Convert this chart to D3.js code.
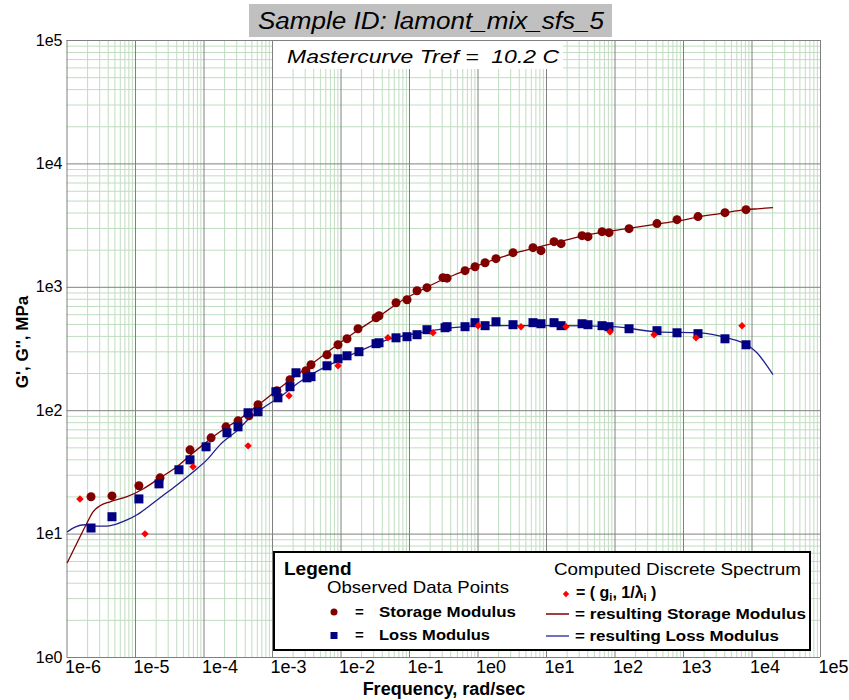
<!DOCTYPE html>
<html>
<head>
<meta charset="utf-8">
<script src="https://cdn.jsdelivr.net/npm/d3@7/dist/d3.min.js"></script>
<style>
  body { margin: 0; background: #fff; }
  text { font-family: "Liberation Sans", Arial, sans-serif; }
</style>
</head>
<body>
<div id="chart"></div>
<script>
// observed data points (frequency in rad/sec, modulus in MPa)
const storageFreq = [2.28e-6, 4.61e-6, 1.14e-5, 2.32e-5, 6.35e-5, 1.29e-4, 2.13e-4, 3.19e-4, 4.61e-4, 6.25e-4,
  1.18e-3, 1.83e-3, 3.13e-3, 3.71e-3, 6.35e-3, 9.2e-3, 1.245e-2, 1.8e-2, 3.3e-2, 3.65e-2,
  6.46e-2, 9.35e-2, 0.131, 0.183, 0.313, 0.359, 0.658, 0.92, 1.29, 1.86,
  3.3, 6.46, 8.45, 13.1, 16.6, 33.6, 41.0, 65.8, 83.2, 163, 417, 817, 1656, 4100, 8318];
const storageG = [19.9, 20.2, 24.4, 28.3, 47.7, 59.7, 73.3, 82.0, 90.1, 110.6,
  143.7, 176.5, 208.8, 233.4, 281.3, 339, 379, 457, 561, 583,
  743, 786, 929, 984, 1186, 1175, 1352, 1455, 1567, 1690,
  1891, 2075, 1963, 2321, 2237, 2596, 2548, 2799, 2747, 2958, 3251, 3500, 3705, 3990, 4220];

const lossFreq = [2.28e-6, 4.61e-6, 1.14e-5, 2.24e-5, 4.38e-5, 6.35e-5, 1.09e-4, 2.2e-4, 3.19e-4, 4.47e-4,
  6.25e-4, 1.14e-3, 1.22e-3, 1.83e-3, 2.24e-3, 3.24e-3, 3.71e-3, 6.35e-3, 9.2e-3, 1.245e-2,
  1.86e-2, 3.3e-2, 3.65e-2, 6.46e-2, 9.35e-2, 0.131, 0.183, 0.336, 0.359, 0.658,
  0.92, 1.29, 1.86, 3.3, 6.46, 8.45, 13.1, 16.6, 33.6, 41.0, 65.8, 83.2, 163, 417, 817, 1656, 4100, 8318];
const lossG = [11.1, 13.7, 19.1, 25.3, 32.9, 39.6, 50.5, 65.6, 73.3, 95.3,
  97.1, 141, 126, 155, 201, 183, 187, 229, 261, 276,
  298, 346, 352, 386, 394, 409, 449, 466, 475, 475,
  512, 484, 521, 493, 512, 502, 512, 484, 502, 493, 484, 475, 457, 441, 424, 417, 379, 339];

// computed discrete spectrum (g_i, 1/lambda_i)
const spectrumFreq = [1.57e-6, 1.40e-5, 7.03e-5, 4.47e-4, 1.77e-3, 9.2e-3, 4.93e-2, 0.224, 1.02, 4.32, 19.6, 85.9, 378, 1549, 7261];
const spectrumG = [19.1, 9.95, 34.8, 51.4, 131, 229, 386, 424, 484, 475, 475, 432, 409, 386, 484];

// resulting moduli from the spectrum
const fitStorageFreq = [1.02e-6, 1.57e-6, 1.99e-6, 2.44e-6, 3.08e-6, 4.32e-6, 7.64e-6, 1.31e-5, 2.32e-5, 4.10e-5,
  7.03e-5, 1.12e-4, 1.74e-4, 3.41e-4, 6.68e-4, 1.31e-3, 2.56e-3, 5.02e-3, 9.84e-3, 1.93e-2,
  3.78e-2, 7.39e-2, 0.145, 0.284, 0.556, 1.09, 2.13, 4.17, 8.17, 16.0,
  31.3, 61.4, 120, 236, 461, 904, 1770, 3467, 8318, 13300, 20600];
const fitStorageG = [5.78, 9.40, 12.2, 15.0, 16.8, 18.1, 19.9, 23.0, 28.3, 34.8,
  45.1, 55.4, 66.8, 85.1, 113, 152, 201, 266, 352, 457,
  583, 757, 929, 1120, 1301, 1511, 1722, 1928, 2115, 2321,
  2548, 2747, 2904, 3070, 3251, 3436, 3705, 3917, 4220, 4300, 4385];
const fitLossFreq = [1.02e-6, 1.33e-6, 1.86e-6, 2.61e-6, 3.90e-6, 5.46e-6, 7.64e-6, 1.07e-5, 1.50e-5, 2.32e-5,
  4.10e-5, 7.03e-5, 1.12e-4, 1.74e-4, 3.19e-4, 4.77e-4, 7.91e-4, 1.31e-3, 2.56e-3, 5.02e-3,
  9.84e-3, 1.93e-2, 4.77e-2, 0.145, 0.439, 1.38, 4.17, 16.0, 95.1, 417,
  1770, 4385, 8590, 12000, 15700, 20600];
const fitLossG = [10.3, 11.3, 11.8, 11.5, 11.5, 12.0, 12.9, 14.2, 16.2, 19.5,
  24.8, 31.6, 39.6, 52.4, 69.3, 86.8, 107, 128, 170, 213,
  256, 303, 372, 424, 466, 484, 484, 484, 475, 432,
  424, 386, 339, 292, 242, 194];

const xTickValues = [1e-6, 1e-5, 1e-4, 1e-3, 1e-2, 1e-1, 1e0, 1e1, 1e2, 1e3, 1e4, 1e5];
const xTickLabels = ["1e-6", "1e-5", "1e-4", "1e-3", "1e-2", "1e-1", "1e0", "1e1", "1e2", "1e3", "1e4", "1e5"];
const yTickValues = [1e0, 1e1, 1e2, 1e3, 1e4, 1e5];
const yTickLabels = ["1e0", "1e1", "1e2", "1e3", "1e4", "1e5"];

const width = 849
const height = 700
const plotLeft = 66.5, plotRight = 820, plotTop = 40, plotBottom = 657

const x = d3.scaleLog().domain([1e-6, 1e5]).range([plotLeft, plotRight]);
const y = d3.scaleLog().domain([1, 1e5]).range([plotBottom, plotTop]);

// minor grid values 2..9 in every decade
const minorOf = (ticks) => ticks.slice(0, -1).flatMap(d => d3.range(2, 10).map(k => k * d));

const svg = d3.select('#chart')
  .append('svg')
  .attr('width', width)
  .attr('height', height);

svg.append('rect').attr('width', width).attr('height', height).attr('fill', '#fff');

// grid
function grid(axis, tr, color) {
  const g = svg.append('g').attr('transform', tr).call(axis);
  g.select('.domain').remove();
  g.selectAll('line').attr('stroke', color).attr('stroke-width', 1);
  return g;
}
grid(d3.axisBottom(x).tickValues(minorOf(xTickValues)).tickSize(-(plotBottom - plotTop)).tickFormat(''),
  `translate(0,${plotBottom})`, '#c0dcc0');
grid(d3.axisLeft(y).tickValues(minorOf(yTickValues)).tickSize(-(plotRight - plotLeft)).tickFormat(''),
  `translate(${plotLeft},0)`, '#c0dcc0');
grid(d3.axisBottom(x).tickValues(xTickValues).tickSize(-(plotBottom - plotTop)).tickFormat(''),
  `translate(0,${plotBottom})`, '#808080');
grid(d3.axisLeft(y).tickValues(yTickValues).tickSize(-(plotRight - plotLeft)).tickFormat(''),
  `translate(${plotLeft},0)`, '#808080');

// tick labels (the x labels sit just right of their grid line, as in the original)
const xAx = svg.append('g')
  .attr('transform', `translate(0,${plotBottom})`)
  .call(d3.axisBottom(x).tickValues(xTickValues).tickSize(0).tickFormat((d, i) => xTickLabels[i]));
xAx.select('.domain').remove();
xAx.selectAll('text')
  .attr('text-anchor', 'start')
  .attr('dx', -2)
  .attr('y', 3)
  .style('font-family', '"Liberation Sans Narrow", "Arial Narrow", sans-serif')
  .style('font-size', '18px')
  .attr('fill', '#000');

const yAx = svg.append('g')
  .attr('transform', `translate(${plotLeft},0)`)
  .call(d3.axisLeft(y).tickValues(yTickValues).tickSize(0).tickPadding(4).tickFormat((d, i) => yTickLabels[i]));
yAx.select('.domain').remove();
yAx.selectAll('text')
  .style('font-family', '"Liberation Sans", Arial, sans-serif')
  .style('font-size', '16px')
  .attr('fill', '#000');

// axis titles
svg.append('text')
  .attr('x', 444)
  .attr('y', 695)
  .attr('text-anchor', 'middle')
  .style('font-family', '"Liberation Sans Narrow", "Arial Narrow", sans-serif')
  .style('font-size', '18px')
  .style('font-weight', 'bold')
  .text('Frequency, rad/sec');

svg.append('text')
  .attr('transform', 'translate(28,342) rotate(-90)')
  .attr('text-anchor', 'middle')
  .style('font-size', '17px')
  .style('font-weight', 'bold')
  .text("G', G'', MPa");

// fitted curves
const line = d3.line().x(d => x(d[0])).y(d => y(d[1])).curve(d3.curveMonotoneX);
svg.append('path')
  .datum(d3.zip(fitStorageFreq, fitStorageG))
  .attr('d', line)
  .attr('fill', 'none')
  .attr('stroke', '#800000')
  .attr('stroke-width', 1.3);
svg.append('path')
  .datum(d3.zip(fitLossFreq, fitLossG))
  .attr('d', line)
  .attr('fill', 'none')
  .attr('stroke', '#202090')
  .attr('stroke-width', 1.3);

// observed points
svg.selectAll('.storage')
  .data(d3.zip(storageFreq, storageG))
  .enter()
  .append('circle')
  .classed('storage', true)
  .attr('cx', d => x(d[0]))
  .attr('cy', d => y(d[1]))
  .attr('r', 4.5)
  .attr('fill', '#800000');

svg.selectAll('.loss')
  .data(d3.zip(lossFreq, lossG))
  .enter()
  .append('rect')
  .classed('loss', true)
  .attr('x', d => x(d[0]) - 4.5)
  .attr('y', d => y(d[1]) - 4.5)
  .attr('width', 9)
  .attr('height', 9)
  .attr('fill', '#000080');

const diamond = d3.symbol().type(d3.symbolSquare).size(28);
svg.selectAll('.spec')
  .data(d3.zip(spectrumFreq, spectrumG))
  .enter()
  .append('path')
  .classed('spec', true)
  .attr('d', diamond)
  .attr('transform', d => `translate(${x(d[0])},${y(d[1])}) rotate(45)`)
  .attr('fill', '#ff0000');

// title boxes
svg.append('rect')
  .attr('x', 249).attr('y', 4).attr('width', 363).attr('height', 33)
  .attr('fill', '#c0c0c0');
svg.append('text')
  .attr('x', 431).attr('y', 29)
  .attr('text-anchor', 'middle')
  .attr('textLength', 346)
  .attr('lengthAdjust', 'spacingAndGlyphs')
  .style('font-size', '23px')
  .style('font-style', 'italic')
  .text('Sample ID: lamont_mix_sfs_5');

svg.append('rect')
  .attr('x', 273).attr('y', 41).attr('width', 290).attr('height', 28)
  .attr('fill', '#fff');
svg.append('text')
  .attr('x', 423).attr('y', 63)
  .attr('text-anchor', 'middle')
  .attr('textLength', 272)
  .attr('lengthAdjust', 'spacingAndGlyphs')
  .style('font-size', '19px')
  .style('font-style', 'italic')
  .style('white-space', 'pre')
  .text('Mastercurve Tref =  10.2 C');

// legend
const lg = svg.append('g');
lg.append('rect')
  .attr('x', 274).attr('y', 552).attr('width', 536).attr('height', 98)
  .attr('fill', '#fff')
  .attr('stroke', '#000')
  .attr('stroke-width', 2);
lg.append('text').attr('x', 284).attr('y', 575)
  .style('font-size', '19px').style('font-weight', 'bold').text('Legend');
lg.append('text').attr('x', 327).attr('y', 593)
  .attr('textLength', 182).attr('lengthAdjust', 'spacingAndGlyphs')
  .style('font-size', '17px').text('Observed Data Points');
lg.append('circle').attr('cx', 334).attr('cy', 612).attr('r', 3.5).attr('fill', '#800000');
lg.append('text').attr('x', 355).attr('y', 617)
  .style('font-size', '15px').style('font-weight', 'bold').text('=');
lg.append('text').attr('x', 379).attr('y', 617)
  .attr('textLength', 137).attr('lengthAdjust', 'spacingAndGlyphs')
  .style('font-size', '15px').style('font-weight', 'bold').text('Storage Modulus');
lg.append('rect').attr('x', 330.5).attr('y', 632).attr('width', 7).attr('height', 7).attr('fill', '#000080');
lg.append('text').attr('x', 355).attr('y', 640)
  .style('font-size', '15px').style('font-weight', 'bold').text('=');
lg.append('text').attr('x', 379).attr('y', 640)
  .attr('textLength', 111).attr('lengthAdjust', 'spacingAndGlyphs')
  .style('font-size', '15px').style('font-weight', 'bold').text('Loss Modulus');

lg.append('text').attr('x', 554).attr('y', 575)
  .attr('textLength', 247).attr('lengthAdjust', 'spacingAndGlyphs')
  .style('font-size', '17px').text('Computed Discrete Spectrum');
lg.append('path')
  .attr('d', d3.symbol().type(d3.symbolSquare).size(20))
  .attr('transform', 'translate(566,594) rotate(45)')
  .attr('fill', '#ff0000');
const spec = lg.append('text').attr('x', 576).attr('y', 598)
  .style('font-size', '16px').style('font-weight', 'bold');
spec.append('tspan').text('= ( g');
spec.append('tspan').attr('dy', 3).style('font-size', '11px').text('i');
spec.append('tspan').attr('dy', -3).text(', 1/λ');
spec.append('tspan').attr('dy', 3).style('font-size', '11px').text('i');
spec.append('tspan').attr('dy', -3).text(' )');

lg.append('line').attr('x1', 546).attr('x2', 569).attr('y1', 614).attr('y2', 614)
  .attr('stroke', '#800000').attr('stroke-width', 1.5);
lg.append('text').attr('x', 575).attr('y', 619)
  .attr('textLength', 231).attr('lengthAdjust', 'spacingAndGlyphs')
  .style('font-size', '15px').style('font-weight', 'bold').text('= resulting Storage Modulus');
lg.append('line').attr('x1', 546).attr('x2', 569).attr('y1', 636).attr('y2', 636)
  .attr('stroke', '#4040a8').attr('stroke-width', 1.5);
lg.append('text').attr('x', 575).attr('y', 641)
  .attr('textLength', 204).attr('lengthAdjust', 'spacingAndGlyphs')
  .style('font-size', '15px').style('font-weight', 'bold').text('= resulting Loss Modulus');
</script>
</body>
</html>
